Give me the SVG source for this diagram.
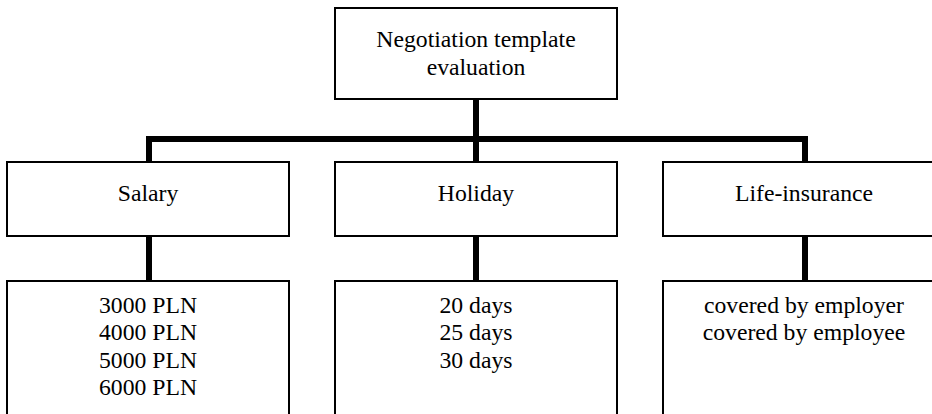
<svg xmlns="http://www.w3.org/2000/svg" width="932" height="414" viewBox="0 0 932 414">
  <style>
    .box { fill: #fff; stroke: #000; stroke-width: 2; }
    .wire { fill: none; stroke: #000; stroke-width: 6; stroke-linecap: butt; stroke-linejoin: miter; }
    .label { font-family: "Liberation Serif", "Times New Roman", serif; font-size: 23.7px; fill: #000; text-anchor: middle; }
  </style>
  <rect width="932" height="414" fill="#fff"/>

  <!-- tree connectors -->
  <g id="connectors">
    <polyline class="wire" points="149,162 149,139 805,139 805,162"/>
    <line class="wire" x1="476" y1="99" x2="476" y2="162"/>
    <line class="wire" x1="149" y1="236" x2="149" y2="281"/>
    <line class="wire" x1="476" y1="236" x2="476" y2="281"/>
    <line class="wire" x1="805" y1="236" x2="805" y2="281"/>
  </g>

  <g id="root">
    <rect class="box" x="335" y="8" width="282" height="91"/>
    <text class="label" x="476" y="47">Negotiation template</text>
    <text class="label" x="476" y="74.5">evaluation</text>
  </g>

  <g id="salary">
    <rect class="box" x="7" y="162" width="282" height="74"/>
    <text class="label" x="148" y="201">Salary</text>
  </g>

  <g id="holiday">
    <rect class="box" x="335" y="162" width="282" height="74"/>
    <text class="label" x="476" y="201">Holiday</text>
  </g>

  <g id="life-insurance">
    <rect class="box" x="663" y="162" width="284" height="74"/>
    <text class="label" x="804" y="201">Life-insurance</text>
  </g>

  <g id="salary-options">
    <rect class="box" x="7" y="281" width="282" height="150"/>
    <text class="label" x="148" y="313">3000 PLN</text>
    <text class="label" x="148" y="340.4">4000 PLN</text>
    <text class="label" x="148" y="367.8">5000 PLN</text>
    <text class="label" x="148" y="395.2">6000 PLN</text>
  </g>

  <g id="holiday-options">
    <rect class="box" x="335" y="281" width="282" height="150"/>
    <text class="label" x="476" y="313">20 days</text>
    <text class="label" x="476" y="340.4">25 days</text>
    <text class="label" x="476" y="367.8">30 days</text>
  </g>

  <g id="insurance-options">
    <rect class="box" x="663" y="281" width="284" height="150"/>
    <text class="label" x="804" y="313">covered by employer</text>
    <text class="label" x="804" y="340.4">covered by employee</text>
  </g>
</svg>
